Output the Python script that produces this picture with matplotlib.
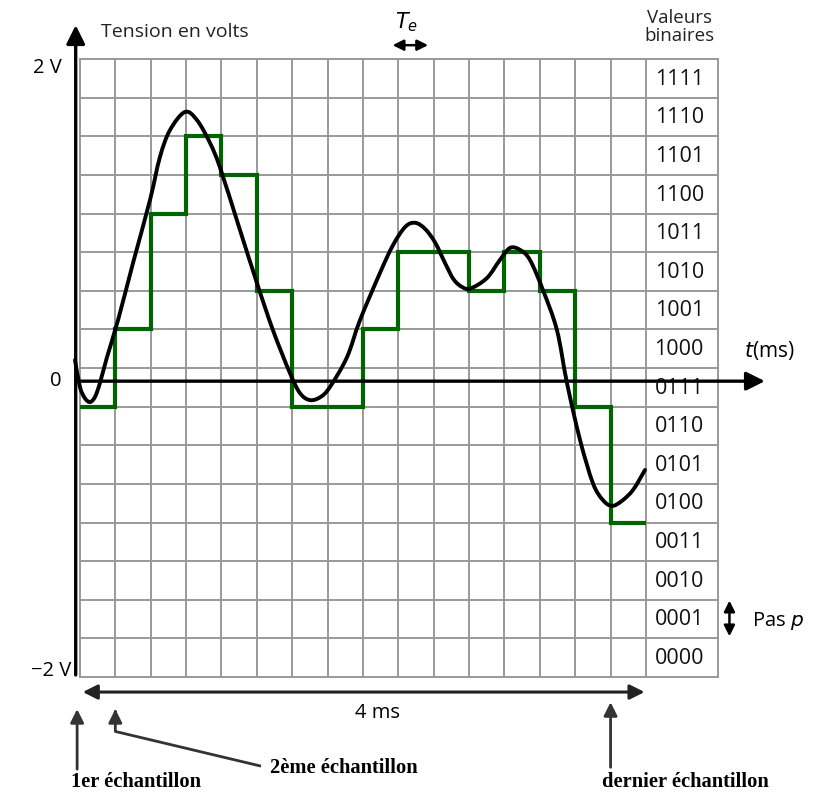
import matplotlib
matplotlib.use('Agg')
import matplotlib.pyplot as plt
from matplotlib.path import Path
from matplotlib.patches import PathPatch

plt.rcParams['font.family'] = ['Open Sans', 'DejaVu Sans']

# echantillonnage : 16 echantillons sur 4 ms
duree_ms = 4.0
Te = 0.25
n_niveaux = 16

# niveaux numeriques retenus (escalier vert), un par echantillon
niveaux = [7, 9, 12, 14, 13, 10, 7, 7, 9, 11, 11, 10, 11, 10, 7, 4]

# signal analogique : temps en ms, tension en pas
sig_t = [-0.035, 0.0, 0.035, 0.071, 0.106, 0.141, 0.191, 0.269, 0.375, 0.495,
         0.565, 0.636, 0.742, 0.827, 0.919, 0.989, 1.12, 1.251, 1.364,
         1.484, 1.555, 1.625, 1.70, 1.767, 1.887, 1.979, 2.120, 2.212, 2.30,
         2.37, 2.44, 2.51, 2.58, 2.64, 2.70, 2.76, 2.876, 2.968, 3.039, 3.110,
         3.180, 3.272, 3.371, 3.442, 3.534, 3.625, 3.696, 3.760, 3.83, 3.91, 3.993]
sig_v = [8.21, 7.51, 7.22, 7.12, 7.25, 7.61, 8.28, 9.24, 10.72, 12.35,
         13.46, 14.16, 14.63, 14.42, 13.83, 13.20, 11.70, 10.20, 8.98,
         7.87, 7.35, 7.17, 7.25, 7.51, 8.28, 9.24, 10.46, 11.18, 11.66,
         11.76, 11.60, 11.25, 10.72, 10.30, 10.10, 10.06, 10.33, 10.80, 11.11, 11.06,
         10.80, 10.02, 8.98, 7.61, 6.14, 5.02, 4.58, 4.43, 4.56, 4.85, 5.36]

codes = [format(k, '04b') for k in range(n_niveaux)]


def courbe_lisse(xs, ys):
    # trace lisse (Bezier de type Catmull-Rom) passant par les points lus
    pts = list(zip(xs, ys))
    verts = [pts[0]]
    kinds = [Path.MOVETO]
    for i in range(len(pts) - 1):
        p0 = pts[max(i - 1, 0)]
        p1 = pts[i]
        p2 = pts[i + 1]
        p3 = pts[min(i + 2, len(pts) - 1)]
        c1 = (p1[0] + (p2[0] - p0[0]) / 6, p1[1] + (p2[1] - p0[1]) / 6)
        c2 = (p2[0] - (p3[0] - p1[0]) / 6, p2[1] - (p3[1] - p1[1]) / 6)
        verts += [c1, c2, p2]
        kinds += [Path.CURVE4] * 3
    return Path(verts, kinds)


fig = plt.figure(figsize=(8.35, 7.94), dpi=100)
ax = fig.add_axes([0, 0, 1, 1])
ax.set_xlim(-0.565, 5.336)
ax.set_ylim(-3.03, 17.53)
ax.axis('off')

x_droite = duree_ms + 2 * Te + 0.01
grille = '#999999'

# quadrillage
for k in range(n_niveaux + 1):
    ax.plot([0, x_droite], [k, k], color=grille, lw=1.4, zorder=1)
for k in range(int(duree_ms / Te) + 1):
    ax.plot([k * Te, k * Te], [0, n_niveaux], color=grille, lw=1.4, zorder=1)
ax.plot([x_droite, x_droite], [0, n_niveaux], color=grille, lw=1.4, zorder=1)

# valeurs binaires
for k, c in enumerate(codes):
    ax.text(duree_ms + 0.235, k + 0.48, c, ha='center', va='center',
            fontsize=15.5, color='#111111', zorder=2)
ax.text(duree_ms + 0.235, 16.82, 'Valeurs\nbinaires', ha='center', va='center',
        fontsize=13.5, color='#222222', linespacing=1.0)

# escalier des echantillons
bords = [k * Te for k in range(len(niveaux) + 1)]
ax.stairs(niveaux, bords, baseline=None, color='#006400', lw=3.0, zorder=3)

# signal
ax.add_patch(PathPatch(courbe_lisse(sig_t, sig_v), fill=False, edgecolor='black',
                       lw=2.8, capstyle='round', joinstyle='round', zorder=4))

# axes
fleche = dict(arrowstyle='-|>', lw=2.4, color='black', mutation_scale=28)
ax.annotate('', xy=(-0.03, 16.95), xytext=(-0.03, -0.02), arrowprops=fleche, zorder=5)
ax.annotate('', xy=(4.86, 7.66), xytext=(-0.03, 7.66), arrowprops=fleche, zorder=5)

ax.text(-0.13, 15.77, '2 V', ha='right', va='center', fontsize=14.5)
ax.text(-0.13, 7.66, '0', ha='right', va='center', fontsize=14.5)
ax.text(-0.06, 0.15, '\u22122 V', ha='right', va='center', fontsize=14.5)
ax.text(0.15, 16.7, 'Tension en volts', ha='left', va='center', fontsize=14,
        color='#222222')
ax.text(4.69, 8.45, '$t$(ms)', ha='left', va='center', fontsize=15)

# periode d'echantillonnage
double = dict(arrowstyle='<|-|>', lw=1.8, color='black', mutation_scale=16)
ax.annotate('', xy=(2.48, 16.36), xytext=(2.19, 16.36), arrowprops=double)
ax.text(2.31, 16.95, '$T_e$', ha='center', va='center', fontsize=15)

# pas de quantification
ax.annotate('', xy=(4.59, 2.05), xytext=(4.59, 0.98), arrowprops=double)
ax.text(4.75, 1.45, 'Pas $p$', ha='left', va='center', fontsize=14.5)

# duree totale
ax.annotate('', xy=(duree_ms + 0.01, -0.39), xytext=(0.0, -0.39),
            arrowprops=dict(arrowstyle='<|-|>', lw=2.2, color='#222222',
                            mutation_scale=22))
ax.text(2.1, -0.92, '4 ms', ha='center', va='center', fontsize=14.5)

# legendes des echantillons
gris = dict(arrowstyle='-|>', lw=2.0, color='#333333', mutation_scale=20)
serif = dict(family='Liberation Serif', fontweight='bold', fontsize=14.8)
ax.annotate('', xy=(-0.02, -0.76), xytext=(-0.02, -2.46), arrowprops=gris)
ax.text(-0.06, -2.72, '1er échantillon', ha='left', va='center', **serif)

ax.plot([0.25, 0.25, 1.27], [-0.95, -1.41, -2.30], color='#333333', lw=2.0)
ax.annotate('', xy=(0.25, -0.76), xytext=(0.25, -1.0), arrowprops=gris)
ax.text(1.34, -2.36, '2ème échantillon', ha='left', va='center', **serif)

ax.annotate('', xy=(3.75, -0.58), xytext=(3.75, -2.41), arrowprops=gris)
ax.text(4.28, -2.72, 'dernier échantillon', ha='center', va='center', **serif)

fig.savefig('out.png', dpi=100)
